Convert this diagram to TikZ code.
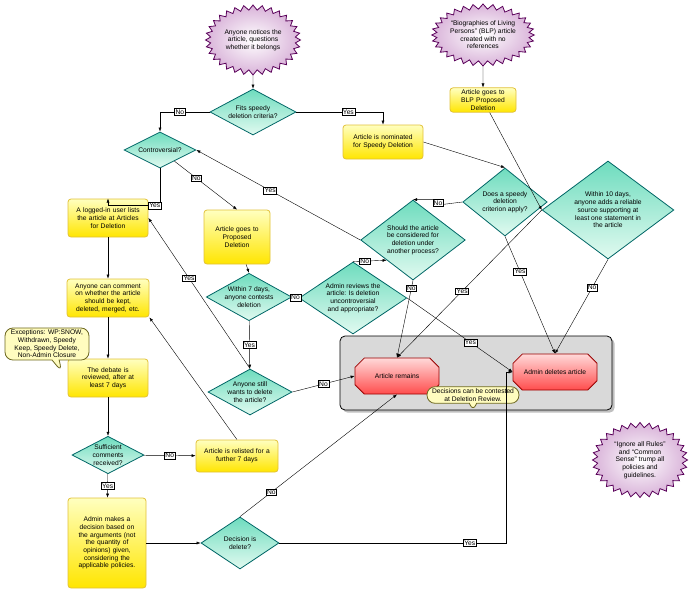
\documentclass[tikz,border=0pt]{standalone}
\usepackage{fontspec}
\setmainfont{Liberation Sans}
\usetikzlibrary{shapes.geometric,shapes.symbols,shapes.misc,shapes.callouts,shadows,arrows.meta}
\definecolor{mintTop}{RGB}{110,220,190}
\definecolor{mintBot}{RGB}{225,250,240}
\tikzset{
  every node/.style={font=\fontsize{6.7}{7.7}\selectfont, align=center},
  step box/.style={rectangle, rounded corners=3pt, draw=yellow!50!brown, thick,
    top color=yellow!25, bottom color=yellow!80!orange, inner sep=2pt},
  choice/.style={diamond, draw=teal!80!black, thick, top color=mintTop,
    bottom color=mintBot, inner sep=0pt, aspect=1.8},
  burst/.style={starburst, starburst points=32, starburst point height=5pt,
    random starburst=0, draw=violet!70!black, thick, inner color=white,
    outer color=violet!30, inner sep=0pt},
  outcome/.style={chamfered rectangle, chamfered rectangle xsep=9pt, draw=red!60!black,
    thick, top color=red!15, bottom color=red!70, minimum width=84pt, minimum height=36pt},
  bubble/.style={rectangle callout, rounded corners=8pt, draw=olive!70!black, thick,
    fill=yellow!25, inner xsep=5pt, inner ysep=2pt},
  lbl/.style={draw, fill=white, inner sep=1pt, thin},
  arr/.style={-{Latex[length=4pt]}, thin}
}
\begin{document}
\begin{tikzpicture}[x=1pt, y=-1pt]
\useasboundingbox (0,0) rectangle (697,600);
% grey panel behind the two outcomes
\node (panel) at (476,373) [draw, thick, rounded corners=5pt, fill=gray!30,
  drop shadow, minimum width=272pt, minimum height=74pt] {};

% start points
\node[burst, minimum width=95pt, minimum height=70pt] (notice) at (253,40)
  {Anyone notices the\\article, questions\\whether it belongs};
\node[burst, minimum width=100pt, minimum height=62pt] (blp) at (483,35)
  {``Biographies of Living\\Persons'' (BLP) article\\created with no\\references};
\node[burst, minimum width=95pt, minimum height=75pt] (ignore) at (640,460)
  {``Ignore all Rules''\\and ``Common\\Sense'' trump all\\policies and\\guidelines.};

% steps
\node[step box, text width=76pt, minimum height=34pt] (nominated) at (383,142)
  {Article is nominated\\for Speedy Deletion};
\node[step box, text width=62pt] (blpprop) at (483,100)
  {Article goes to\\BLP Proposed\\Deletion};
\node[step box, text width=76pt, minimum height=38pt] (logged) at (108,218)
  {A logged-in user lists\\the article at Articles\\for Deletion};
\node[step box, text width=62pt, minimum height=54pt] (proposed) at (237,237)
  {Article goes to\\Proposed\\Deletion};
\node[step box, text width=78pt, minimum height=38pt] (comment) at (108,298)
  {Anyone can comment\\on whether the article\\should be kept,\\deleted, merged, etc.};
\node[step box, text width=76pt, minimum height=38pt] (debate) at (108,378)
  {The debate is\\reviewed, after at\\least 7 days};
\node[step box, text width=78pt, minimum height=32pt] (relisted) at (237,456)
  {Article is relisted for a\\further 7 days};
\node[step box, text width=74pt, minimum height=90pt] (adminmakes) at (107,543)
  {Admin makes a\\decision based on\\the arguments (not\\the quantity of\\opinions) given,\\considering the\\applicable policies.};

% decisions
\node[choice, minimum width=86pt, minimum height=46pt] (speedy) at (253,112)
  {Fits speedy\\deletion criteria?};
\node[choice, minimum width=72pt, minimum height=36pt] (contr) at (160,150) {Controversial?};
\node[choice, minimum width=82pt, minimum height=68pt] (apply) at (505,202)
  {Does a speedy\\deletion\\criterion apply?};
\node[choice, minimum width=118pt, minimum height=98pt] (within10) at (608,210)
  {Within 10 days,\\anyone adds a reliable\\source supporting at\\least one statement in\\the article};
\node[choice, minimum width=90pt, minimum height=80pt] (should) at (413,240)
  {Should the article\\be considered for\\deletion under\\another process?};
\node[choice, minimum width=96pt, minimum height=72pt] (reviews) at (353,298)
  {Admin reviews the\\article: Is deletion\\uncontroversial\\and appropriate?};
\node[choice, minimum width=84pt, minimum height=46pt] (within7) at (249,297)
  {Within 7 days,\\anyone contests\\deletion};
\node[choice, minimum width=84pt, minimum height=46pt] (still) at (250,392)
  {Anyone still\\wants to delete\\the article?};
\node[choice, minimum width=72pt, minimum height=36pt] (enough) at (108,455)
  {Sufficient\\comments\\received?};
\node[choice, minimum width=78pt, minimum height=52pt] (decision) at (240,543)
  {Decision is\\delete?};

% outcomes
\node[outcome] (remains) at (397,376) {Article remains};
\node[outcome] (deletes) at (555,372) {Admin deletes article};

% notes
\node[bubble, callout absolute pointer={(62,372)}, minimum width=84pt] (except) at (47,344)
  {Exceptions: WP:SNOW,\\Withdrawn, Speedy\\Keep, Speedy Delete,\\Non-Admin Closure};
\node[bubble, callout absolute pointer={(473,412)}] (contest) at (473,395)
  {Decisions can be contested\\at Deletion Review.};

\coordinate (dr) at (506,543);
\coordinate (nobend) at (438,205);

% connectors
\draw[arr] (notice) -- (speedy);
\draw[arr] (blp) -- (blpprop);
\draw[arr] (speedy.west) -| node[lbl, pos=0.3] {No} (contr.north);
\draw[arr] (speedy.east) -| node[lbl, pos=0.3] {Yes} (nominated.north);
\draw[arr] (contr.south) -- ++(0,37) -| node[lbl, pos=0.05] {Yes} (logged.north);
\draw[arr] (contr) -- node[lbl, pos=0.35] {No} (proposed.north);
\draw[arr] (should.west) -- node[lbl, pos=0.55] {Yes} (contr.east);
\draw[arr] (apply.west) -- (nobend) |- node[lbl, pos=0.2] {No} (should.north) ;
\draw[arr] (nominated.east) -- (apply.north);
\draw[arr] (blpprop) -- (within10.west);
\draw[arr] (logged) -- (comment);
\draw[arr] (comment) -- (debate);
\draw[arr] (debate) -- (enough);
\draw[arr] (enough) -- node[lbl] {No} (relisted);
\draw[arr] (enough) -- node[lbl] {Yes} (adminmakes);
\draw[arr] (relisted.north) -- (comment.south east);
\draw[arr] (adminmakes) -- (decision);
\draw[arr] (decision.north) -- node[lbl, pos=0.2] {No} (remains.south);
\draw[arr] (decision.east) -- node[lbl, pos=0.84] {Yes} (dr) |- (deletes.west);
\draw[arr] (proposed) -- (within7.north);
\draw[arr] (within7) -- node[lbl] {Yes} (still);
\draw[arr] (within7) -- node[lbl] {No} (reviews);
\draw[arr] (still.north) -- node[lbl, pos=0.6] {Yes} (logged.east);
\draw[arr] (still.east) -- node[lbl] {No} (remains.west);
\draw[arr] (reviews.north) -- node[lbl, pos=0.35] {No} (should.south west);
\draw[arr] (reviews.east) -- node[lbl, pos=0.6] {Yes} (deletes.west);
\draw[arr] (should.south) -- node[lbl, pos=0.1] {No} (remains.north);
\draw[arr] (apply.south) -- node[lbl, pos=0.3] {Yes} (deletes.north);
\draw[arr] (within10.south) -- node[lbl, pos=0.3] {No} (deletes.north);
\draw[arr] (within10.west) -- node[lbl, pos=0.55] {Yes} (remains.north);
\end{tikzpicture}
\end{document}
